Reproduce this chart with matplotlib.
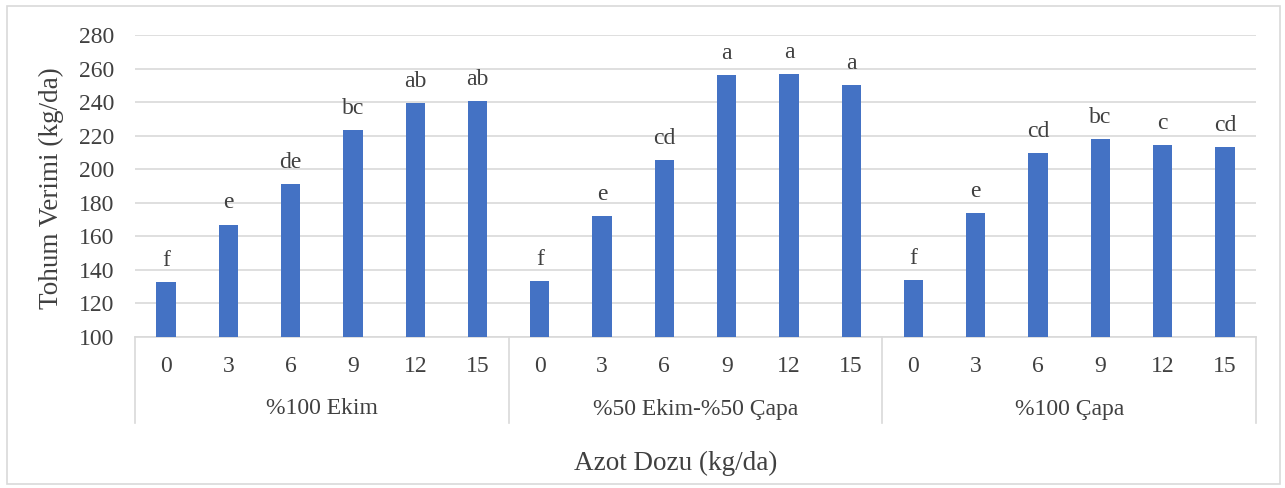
import matplotlib
matplotlib.use("Agg")
import matplotlib.pyplot as plt
import matplotlib.transforms as mtransforms
from matplotlib.patches import Rectangle
import numpy as np

groups = ["%100 Ekim", "%50 Ekim-%50 Çapa", "%100 Çapa"]
doses = ["0", "3", "6", "9", "12", "15"]
values_ekim = [132.7, 167.0, 191.0, 223.5, 239.2, 240.6]
values_karisik = [133.5, 172.2, 205.7, 256.0, 256.8, 250.1]
values_capa = [133.9, 174.0, 209.8, 217.8, 214.4, 213.0]
letters_ekim = ["f", "e", "de", "bc", "ab", "ab"]
letters_karisik = ["f", "e", "cd", "a", "a", "a"]
letters_capa = ["f", "e", "cd", "bc", "c", "cd"]

values = values_ekim + values_karisik + values_capa
letters = letters_ekim + letters_karisik + letters_capa
ticklabels = doses * len(groups)

plt.rcParams['font.family'] = ['Liberation Serif', 'DejaVu Serif']

W, H = 1285, 488
fig = plt.figure(figsize=(W / 100, H / 100), dpi=100)
fig.patches.append(Rectangle((7 / W, 1 - 484 / H), (1280 - 7) / W, (484 - 6) / H,
                             transform=fig.transFigure, fill=False,
                             edgecolor="#D9D9D9", linewidth=1.2))

left, right, top, bottom = 135, 1256, 35, 337
ax = fig.add_axes([left / W, 1 - bottom / H, (right - left) / W, (bottom - top) / H])

x = np.arange(len(values))
ax.bar(x, values, width=0.31, color="#4472C4", zorder=3)
ax.set_xlim(-0.5, len(values) - 0.5)
ax.set_ylim(100, 280)
ax.set_yticks(np.arange(100, 281, 20))
ax.grid(axis="y", color="#D9D9D9", linewidth=1.2, zorder=0)
for s in ["top", "right", "left"]:
    ax.spines[s].set_visible(False)
ax.spines["bottom"].set_color("#D9D9D9")
ax.spines["bottom"].set_linewidth(1.2)
ax.tick_params(axis="y", length=0, labelsize=17, labelcolor="#404040", pad=15)
ax.set_xticks(x)
ax.set_xticklabels(ticklabels)
ax.tick_params(axis="x", length=0, labelsize=17, labelcolor="#404040", pad=14)

for xi, v, lab in zip(x, values, letters):
    ax.annotate(lab, (xi, v), xytext=(0, 8), textcoords="offset points",
                ha="center", va="bottom", fontsize=17, color="#404040")

trans = mtransforms.blended_transform_factory(ax.transData, ax.transAxes)
sep_depth = -(423 - 337) / (bottom - top)
for b in [-0.5, 5.5, 11.5, 17.5]:
    ax.plot([b, b], [0, sep_depth], transform=trans, clip_on=False,
            color="#D9D9D9", linewidth=1.2)
for i, g in enumerate(groups):
    ax.text(i * 6 + 2.5, -(409 - 337) / (bottom - top), g, transform=trans,
            ha="center", va="center", fontsize=17, color="#404040")

fig.text(51 / W, 1 - 188 / H, "Tohum Verimi (kg/da)", rotation=90,
         ha="center", va="center", fontsize=19.5, color="#404040")
fig.text((577 + 775) / 2 / W, 1 - 463 / H, "Azot Dozu (kg/da)", ha="center",
         va="center", fontsize=19.5, color="#404040")

fig.savefig("out.png", dpi=100)
